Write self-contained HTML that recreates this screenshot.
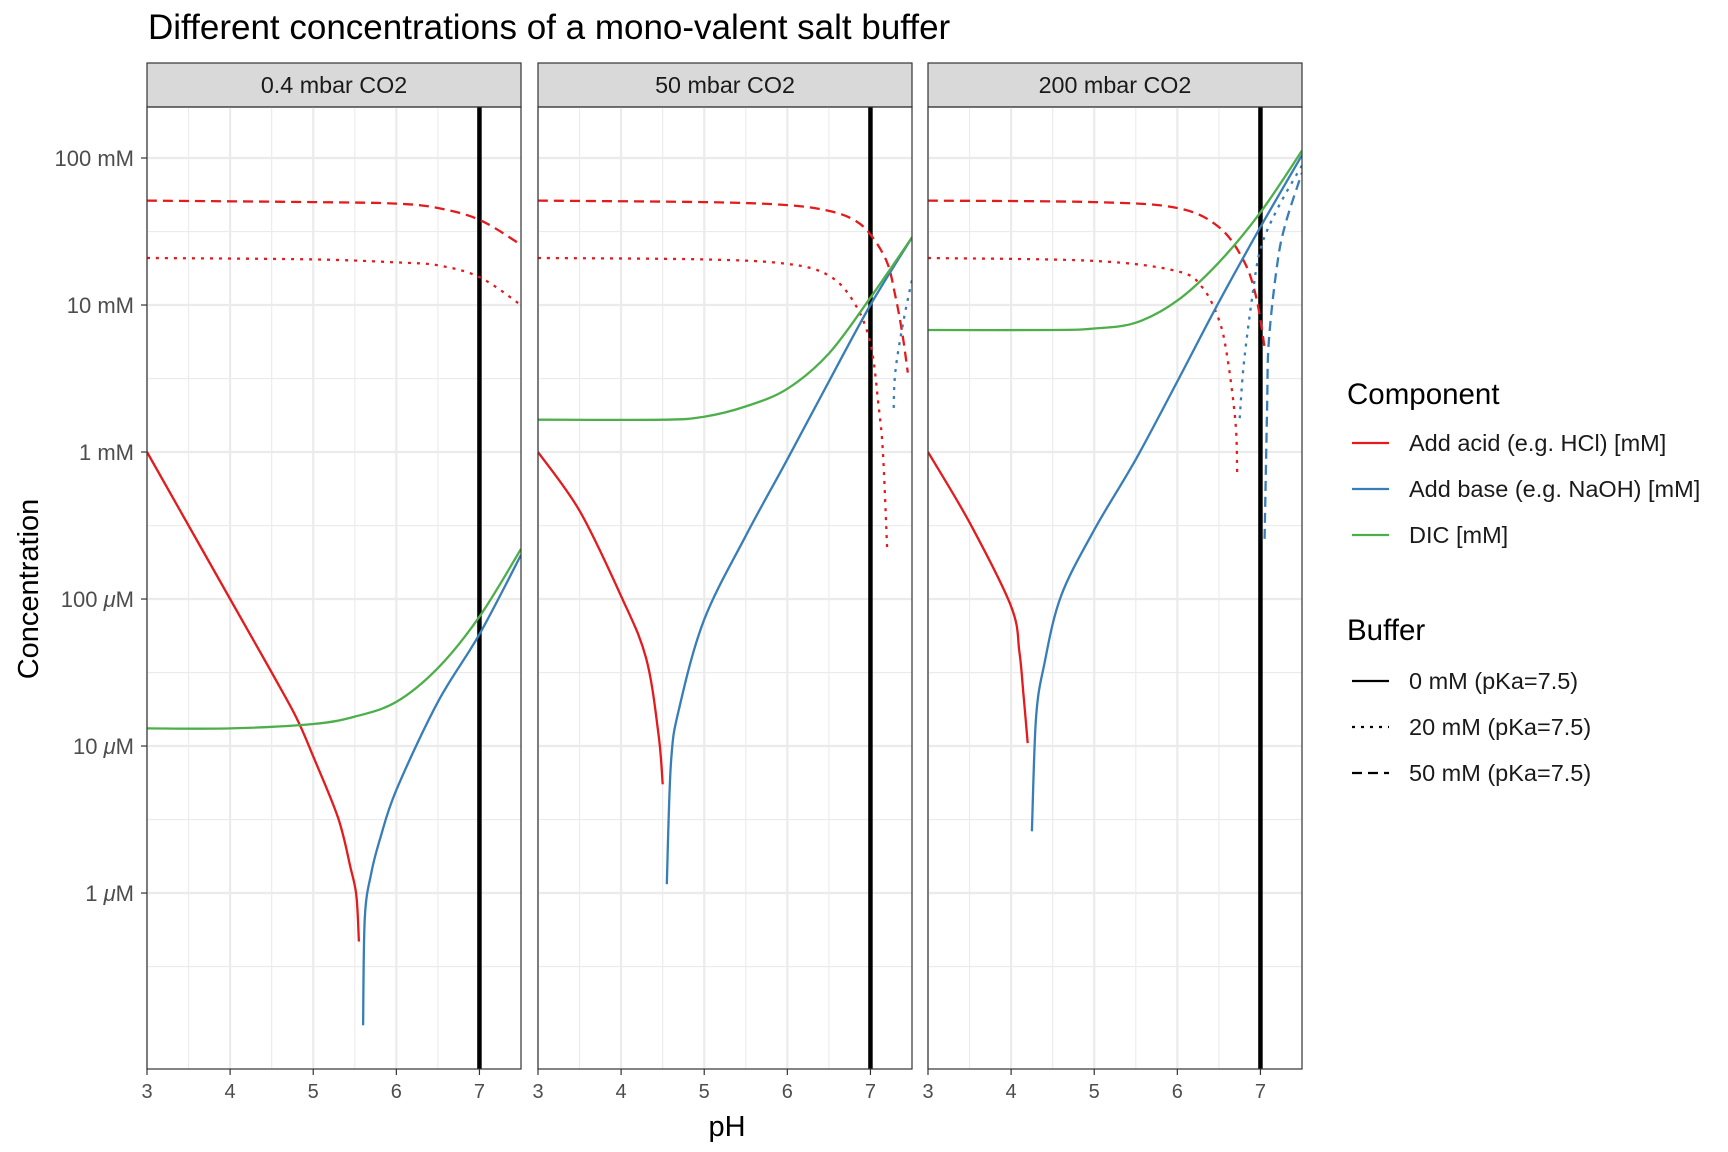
<!DOCTYPE html>
<html><head><meta charset="utf-8">
<style>
html,body{margin:0;padding:0;background:#fff;}
svg{display:block;font-family:"Liberation Sans",Arial,sans-serif;}
</style></head>
<body>
<svg id="chart" width="1728" height="1152" viewBox="0 0 1728 1152" xmlns="http://www.w3.org/2000/svg">
<rect x="0" y="0" width="1728" height="1152" fill="#fff"/>
<text x="148" y="39" font-size="35" fill="#000">Different concentrations of a mono-valent salt buffer</text>
<g id="panels"></g>
<text x="727" y="1136" font-size="29" text-anchor="middle" fill="#000">pH</text>
<text transform="translate(38,589) rotate(-90)" font-size="29" text-anchor="middle" fill="#000">Concentration</text>
<g id="legend">
  <text x="1347" y="404" font-size="29.5">Component</text>
  <line x1="1352" y1="443" x2="1389" y2="443" stroke="#E41A1C" stroke-width="2.2"/>
  <text x="1409" y="451" font-size="23.5" fill="#1a1a1a">Add acid (e.g. HCl) [mM]</text>
  <line x1="1352" y1="489" x2="1389" y2="489" stroke="#377EB8" stroke-width="2.2"/>
  <text x="1409" y="497" font-size="23.5" fill="#1a1a1a">Add base (e.g. NaOH) [mM]</text>
  <line x1="1352" y1="535" x2="1389" y2="535" stroke="#4DAF4A" stroke-width="2.2"/>
  <text x="1409" y="543" font-size="23.5" fill="#1a1a1a">DIC [mM]</text>
  <text x="1347" y="640" font-size="29.5">Buffer</text>
  <line x1="1352" y1="681" x2="1389" y2="681" stroke="#000" stroke-width="2.2"/>
  <text x="1409" y="689" font-size="23.5" fill="#1a1a1a">0 mM (pKa=7.5)</text>
  <line x1="1352" y1="727" x2="1389" y2="727" stroke="#000" stroke-width="2.2" stroke-dasharray="3 6"/>
  <text x="1409" y="735" font-size="23.5" fill="#1a1a1a">20 mM (pKa=7.5)</text>
  <line x1="1352" y1="773" x2="1389" y2="773" stroke="#000" stroke-width="2.2" stroke-dasharray="10 6"/>
  <text x="1409" y="781" font-size="23.5" fill="#1a1a1a">50 mM (pKa=7.5)</text>
</g>
</svg>
<script>
// ---- data (log10 of concentration in mM) ----
const panelLabels = ["0.4 mbar CO2", "50 mbar CO2", "200 mbar CO2"];
const xTicks = [3, 4, 5, 6, 7];
const yTickLogs = [2, 1, 0, -1, -2, -3];
const yTickNums = ["100", "10", "1", "100", "10", "1"];
const yTickUnits = ["mM", "mM", "mM", "μM", "μM", "μM"];
const refPH = 7;

// Panel 1: 0.4 mbar
const p1AcidPH = [3, 4, 4.5, 4.8, 5, 5.3, 5.45, 5.52, 5.55];
const p1AcidLog = [0, -1.0, -1.5, -1.81, -2.07, -2.49, -2.83, -3.02, -3.33];
const p1BasePH = [5.6, 5.62, 5.7, 5.8, 6, 6.5, 7, 7.5];
const p1BaseLog = [-3.9, -3.17, -2.86, -2.64, -2.3, -1.7, -1.24, -0.7];
const p1DicPH = [3, 4, 5, 5.5, 6, 6.5, 7, 7.5];
const p1DicLog = [-1.88, -1.88, -1.85, -1.8, -1.7, -1.47, -1.12, -0.66];
const p1Acid50PH = [3, 5, 6, 6.5, 7, 7.5];
const p1Acid50Log = [1.71, 1.7, 1.69, 1.66, 1.58, 1.41];
const p1Acid20PH = [3, 5, 6, 6.5, 7, 7.5];
const p1Acid20Log = [1.32, 1.31, 1.29, 1.27, 1.19, 1.0];

// Panel 2: 50 mbar
const p2AcidPH = [3, 3.5, 4, 4.3, 4.45, 4.5];
const p2AcidLog = [0, -0.4, -0.98, -1.4, -1.92, -2.26];
const p2BasePH = [4.55, 4.6, 4.7, 5, 5.5, 6, 6.5, 7, 7.5];
const p2BaseLog = [-2.94, -2.11, -1.74, -1.14, -0.57, -0.05, 0.48, 1.0, 1.46];
const p2DicPH = [3, 4.5, 5, 5.5, 6, 6.5, 7, 7.5];
const p2DicLog = [0.22, 0.22, 0.24, 0.31, 0.43, 0.67, 1.05, 1.46];
const p2Acid50PH = [3, 5, 6, 6.5, 6.8, 7, 7.2, 7.3, 7.38, 7.45];
const p2Acid50Log = [1.71, 1.7, 1.68, 1.64, 1.58, 1.48, 1.29, 1.06, 0.82, 0.54];
const p2Acid20PH = [3, 5, 6, 6.5, 6.8, 7, 7.1, 7.15, 7.2];
const p2Acid20Log = [1.32, 1.31, 1.28, 1.2, 1.02, 0.74, 0.3, 0.0, -0.65];
const p2Base20PH = [7.28, 7.3, 7.4, 7.5];
const p2Base20Log = [0.3, 0.55, 0.9, 1.17];

// Panel 3: 200 mbar
const p3AcidPH = [3, 3.5, 4, 4.1, 4.15, 4.2];
const p3AcidLog = [0, -0.48, -1.05, -1.36, -1.66, -1.98];
const p3BasePH = [4.25, 4.3, 4.4, 4.6, 5, 5.5, 6, 6.5, 7, 7.5];
const p3BaseLog = [-2.58, -1.81, -1.44, -0.98, -0.53, -0.05, 0.48, 1.02, 1.53, 2.02];
const p3DicPH = [3, 4.5, 5, 5.5, 6, 6.5, 7, 7.5];
const p3DicLog = [0.83, 0.83, 0.84, 0.88, 1.03, 1.29, 1.63, 2.05];
const p3Acid50PH = [3, 5, 6, 6.5, 6.8, 6.95, 7.05];
const p3Acid50Log = [1.71, 1.7, 1.66, 1.53, 1.3, 1.05, 0.71];
const p3Acid20PH = [3, 5, 6, 6.3, 6.5, 6.6, 6.7, 6.72];
const p3Acid20Log = [1.32, 1.3, 1.23, 1.12, 0.9, 0.65, 0.2, -0.14];
const p3Base20PH = [6.75, 6.8, 6.9, 7, 7.2, 7.5];
const p3Base20Log = [0.23, 0.6, 1.05, 1.38, 1.65, 1.95];
const p3Base50PH = [7.05, 7.08, 7.1, 7.2, 7.3, 7.5];
const p3Base50Log = [-0.59, 0.3, 0.75, 1.27, 1.55, 1.9];

const panelSeries = [
  [
    {n:"acid-50mm", x:p1Acid50PH, y:p1Acid50Log, c:"#E41A1C", d:"10 6"},
    {n:"acid-20mm", x:p1Acid20PH, y:p1Acid20Log, c:"#E41A1C", d:"3 6"},
    {n:"acid-0mm", x:p1AcidPH, y:p1AcidLog, c:"#E41A1C", d:""},
    {n:"base-0mm", x:p1BasePH, y:p1BaseLog, c:"#377EB8", d:""},
    {n:"dic", x:p1DicPH, y:p1DicLog, c:"#4DAF4A", d:""}
  ],
  [
    {n:"acid-50mm", x:p2Acid50PH, y:p2Acid50Log, c:"#E41A1C", d:"10 6"},
    {n:"acid-20mm", x:p2Acid20PH, y:p2Acid20Log, c:"#E41A1C", d:"3 6"},
    {n:"base-20mm", x:p2Base20PH, y:p2Base20Log, c:"#377EB8", d:"3 6"},
    {n:"acid-0mm", x:p2AcidPH, y:p2AcidLog, c:"#E41A1C", d:""},
    {n:"base-0mm", x:p2BasePH, y:p2BaseLog, c:"#377EB8", d:""},
    {n:"dic", x:p2DicPH, y:p2DicLog, c:"#4DAF4A", d:""}
  ],
  [
    {n:"acid-50mm", x:p3Acid50PH, y:p3Acid50Log, c:"#E41A1C", d:"10 6"},
    {n:"acid-20mm", x:p3Acid20PH, y:p3Acid20Log, c:"#E41A1C", d:"3 6"},
    {n:"base-20mm", x:p3Base20PH, y:p3Base20Log, c:"#377EB8", d:"3 6"},
    {n:"base-50mm", x:p3Base50PH, y:p3Base50Log, c:"#377EB8", d:"10 6"},
    {n:"acid-0mm", x:p3AcidPH, y:p3AcidLog, c:"#E41A1C", d:""},
    {n:"base-0mm", x:p3BasePH, y:p3BaseLog, c:"#377EB8", d:""},
    {n:"dic", x:p3DicPH, y:p3DicLog, c:"#4DAF4A", d:""}
  ]
];

// ---- layout ----
const NS = "http://www.w3.org/2000/svg";
const panelLeft = [147, 538, 928];
const panelW = 374;
const plotTop = 107, plotBot = 1069, stripTop = 63;
const xMin = 3, xMax = 7.5;
const yTop = 2.347, yBot = -4.197;
function yScale(v){ return plotTop + (yTop - v) / (yTop - yBot) * (plotBot - plotTop); }
function mk(tag, attrs, parent){
  const e = document.createElementNS(NS, tag);
  for (const k in attrs) e.setAttribute(k, attrs[k]);
  parent.appendChild(e);
  return e;
}
function smoothPath(P){
  let d = "M" + P[0][0].toFixed(1) + "," + P[0][1].toFixed(1);
  for (let i = 0; i < P.length - 1; i++) {
    const p0 = P[Math.max(i-1,0)], p1 = P[i], p2 = P[i+1], p3 = P[Math.min(i+2,P.length-1)];
    const t = 6;
    const c1 = [p1[0] + (p2[0]-p0[0])/t, p1[1] + (p2[1]-p0[1])/t];
    const c2 = [p2[0] - (p3[0]-p1[0])/t, p2[1] - (p3[1]-p1[1])/t];
    d += " C" + c1[0].toFixed(1) + "," + c1[1].toFixed(1) + " " + c2[0].toFixed(1) + "," + c2[1].toFixed(1) + " " + p2[0].toFixed(1) + "," + p2[1].toFixed(1);
  }
  return d;
}
const root = document.getElementById("panels");

panelLabels.forEach((lab, pi) => {
  const L = panelLeft[pi];
  const xs = v => L + (v - xMin) / (xMax - xMin) * panelW;
  const g = mk("g", {}, root);
  
  
  const sr = mk("rect", {x:L, y:stripTop, width:panelW, height:plotTop-stripTop, fill:"#D9D9D9", stroke:"#333", "stroke-width":1.2}, g);
  
  
  const st = mk("text", {x:L+panelW/2, y:93, "text-anchor":"middle", "font-size":23.3, fill:"#1a1a1a"}, g);
  st.textContent = lab;
  
  
  for (let v = 3.5; v < xMax; v += 1) {
    const l = mk("line", {x1:xs(v), x2:xs(v), y1:plotTop, y2:plotBot, stroke:"#EBEBEB", "stroke-width":1.1}, g);
    
    
  }
  for (let v = 1.5; v > yBot; v -= 1) {
    const l = mk("line", {x1:L, x2:L+panelW, y1:yScale(v), y2:yScale(v), stroke:"#EBEBEB", "stroke-width":1.1}, g);
    
    
  }
  xTicks.forEach(t => {
    const l = mk("line", {x1:xs(t), x2:xs(t), y1:plotTop, y2:plotBot, stroke:"#EBEBEB", "stroke-width":2.2}, g);
    
    
  });
  yTickLogs.forEach(t => {
    const l = mk("line", {x1:L, x2:L+panelW, y1:yScale(t), y2:yScale(t), stroke:"#EBEBEB", "stroke-width":2.2}, g);
    
    
  });
  const cp = mk("clipPath", {id:"clip"+pi}, g);
  mk("rect", {x:L, y:plotTop, width:panelW, height:plotBot-plotTop}, cp);
  const sg = mk("g", {"clip-path":"url(#clip"+pi+")"}, g);
  
  
  const rl = mk("line", {x1:xs(refPH), x2:xs(refPH), y1:plotTop, y2:plotBot, stroke:"#000", "stroke-width":4.5}, sg);
  
  
  panelSeries[pi].forEach(s => {
    const P = s.x.map((v, i) => [xs(v), yScale(s.y[i])]);
    const attrs = {d:smoothPath(P), fill:"none", stroke:s.c, "stroke-width":2.3, "stroke-linejoin":"round"};
    if (s.d) attrs["stroke-dasharray"] = s.d;
    const pl = mk("path", attrs, sg);
    
    
  });
  const br = mk("rect", {x:L, y:plotTop, width:panelW, height:plotBot-plotTop, fill:"none", stroke:"#333", "stroke-width":1.2}, g);
  
  
  xTicks.forEach(t => {
    const tk = mk("line", {x1:xs(t), x2:xs(t), y1:plotBot, y2:plotBot+6, stroke:"#333", "stroke-width":1.2}, g);
    
    
    const tl = mk("text", {x:xs(t), y:plotBot+29, "text-anchor":"middle", "font-size":20, fill:"#4d4d4d"}, g);
    tl.textContent = t;
    
    
  });
});

const yg = mk("g", {}, root);


yTickLogs.forEach((t, i) => {
  const y = yScale(t);
  const tk = mk("line", {x1:141, x2:147, y1:y, y2:y, stroke:"#333", "stroke-width":1.2}, yg);
  
  
  const tl = mk("text", {x:134, y:y+8, "text-anchor":"end", "font-size":22, fill:"#4d4d4d"}, yg);
  
  
  const unit = yTickUnits[i];
  if (unit === "μM") {
    tl.appendChild(document.createTextNode(yTickNums[i] + " "));
    const it = mk("tspan", {"font-style":"italic"}, tl);
    it.textContent = "μ";
    tl.appendChild(document.createTextNode("M"));
  } else {
    tl.textContent = yTickNums[i] + " " + unit;
  }
});
</script>
</body></html>
